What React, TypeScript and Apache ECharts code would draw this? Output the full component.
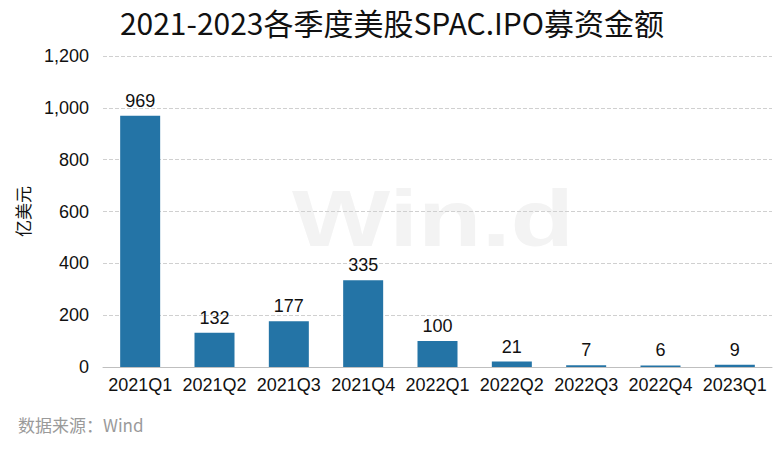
import React, { useEffect, useRef } from "react";
import * as echarts from "echarts";

const categories = ["2021Q1", "2021Q2", "2021Q3", "2021Q4", "2022Q1", "2022Q2", "2022Q3", "2022Q4", "2023Q1"];
const values = [969, 132, 177, 335, 100, 21, 7, 6, 9];
const titleText = "2021-2023各季度美股SPAC.IPO募资金额";
const yAxisName = "亿美元";
const sourceText = "数据来源：Wind";

export default function App() {
  const ref = useRef<HTMLDivElement>(null);
  useEffect(() => {
    if (!ref.current) return;
    const chart = echarts.init(ref.current, undefined, { renderer: "svg" });
    chart.setOption({
      animation: false,
      backgroundColor: "#ffffff",
      textStyle: { fontFamily: "Arial, 'Liberation Sans', 'Noto Sans CJK SC', sans-serif" },
      graphic: [
        {
          type: "text",
          left: "center",
          top: 7,
          style: {
            text: titleText,
            fontSize: 30,
            fontFamily: "'Noto Sans CJK SC', sans-serif",
            fill: "#111111",
          },
        },
        {
          type: "text",
          x: 292,
          y: 178,
          scaleX: 1.3,
          z: -10,
          style: {
            text: "Win.d",
            fontSize: 80,
            fontWeight: "bold",
            fontFamily: "Arial, 'Liberation Sans', sans-serif",
            fill: "#f3f3f3",
          },
        },
        {
          type: "text",
          left: 18,
          top: 416,
          style: {
            text: sourceText,
            fontSize: 17,
            fontFamily: "'Noto Sans CJK SC', sans-serif",
            fill: "#9a9a9a",
          },
        },
      ],
      grid: { left: 103, right: 12, top: 56, bottom: 84 },
      xAxis: {
        type: "category",
        data: categories,
        axisLine: { lineStyle: { color: "#bfbfbf" } },
        axisTick: { show: false },
        axisLabel: { color: "#111", fontSize: 18, margin: 9, interval: 0 },
      },
      yAxis: {
        type: "value",
        min: 0,
        max: 1200,
        interval: 200,
        name: yAxisName,
        nameLocation: "middle",
        nameGap: 72,
        nameRotate: 90,
        nameTextStyle: { color: "#111", fontSize: 17, fontFamily: "'Noto Sans CJK SC', sans-serif" },
        axisLine: { show: false },
        axisTick: { show: false },
        axisLabel: {
          color: "#111",
          fontSize: 18,
          margin: 14,
          formatter: (v: number) => v.toLocaleString("en-US"),
        },
        splitLine: { lineStyle: { color: "#d0d0d0", type: "dashed" } },
      },
      series: [
        {
          type: "bar",
          data: values,
          barWidth: 40,
          itemStyle: { color: "#2474a6" },
          label: { show: true, position: "top", color: "#111", fontSize: 18, distance: 6 },
        },
      ],
    });
    return () => chart.dispose();
  }, []);
  return <div ref={ref} style={{ width: 784, height: 451, margin: -8 }} />;
}
